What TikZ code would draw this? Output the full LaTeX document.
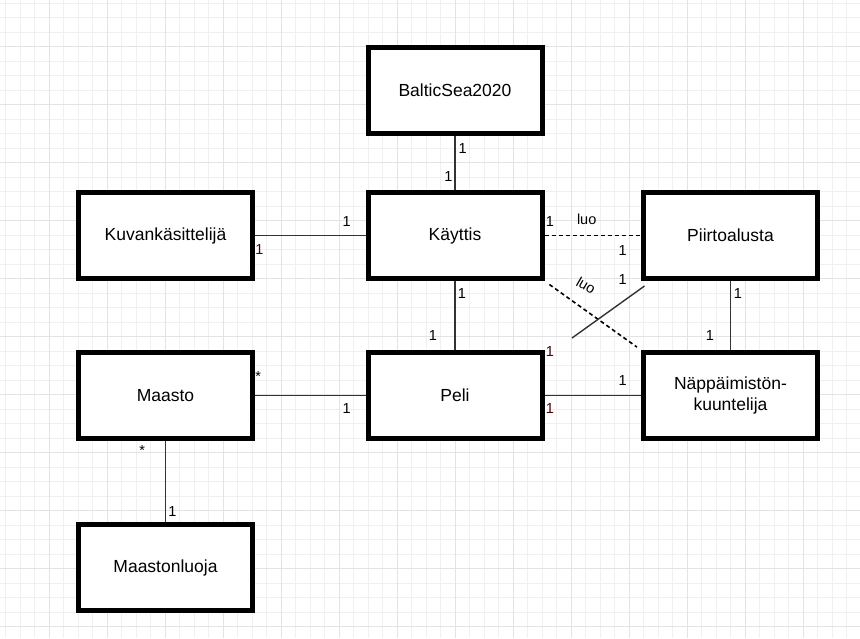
\documentclass[tikz,border=0pt]{standalone}
\usepackage{fontspec}
\setmainfont{Liberation Sans}
\definecolor{darkred}{RGB}{75,0,0}
\begin{document}
\begin{tikzpicture}[x=1pt, y=-1pt,
            b/.style={draw=black,line width=5pt,fill=white,minimum width=174pt,minimum height=86pt,
            align=center,font=\fontsize{17.5}{20.5}\selectfont},
            c/.style={black!80,line width=1.4pt},
            d/.style={black,line width=1.6pt,dash pattern=on 4pt off 3pt},
            m/.style={font=\fontsize{14.5}{16}\selectfont,inner sep=0pt}]
            \useasboundingbox (0,0) rectangle (860,638);

            % grid
            \foreach \k in {0,...,58} \draw[black!6,line width=0.8pt] (5.8+14.5*\k,0) -- (5.8+14.5*\k,638);
            \foreach \k in {0,...,43} \draw[black!6,line width=0.8pt] (0,3.2+14.5*\k) -- (860,3.2+14.5*\k);
            \foreach \k in {0,...,13} \draw[black!11,line width=0.8pt] (49.3+58*\k,0) -- (49.3+58*\k,638);
            \foreach \k in {0,...,10} \draw[black!11,line width=0.8pt] (0,46.7+58*\k) -- (860,46.7+58*\k);

            \node[b] (baltic) at (455,90) {BalticSea2020};
            \node[b] (kayttis) at (455,235.5) {Käyttis};
            \node[b] (kuva) at (165.5,235.5) {Kuvankäsittelijä};
            \node[b] (piirto) at (730.5,235.5) {Piirtoalusta};
            \node[b] (maasto) at (165.5,395.5) {Maasto};
            \node[b] (peli) at (455,395.5) {Peli};
            \node[b] (nappis) at (730.5,395.5) {Näppäimistön-\\kuuntelija};
            \node[b] (luoja) at (165.5,567.5) {Maastonluoja};

            \coordinate (crossend) at (572,338);

            \draw[c] (baltic) to (kayttis);
            \draw[c] (kuva) to (kayttis);
            \draw[d] (kayttis) to (piirto);
            \draw[d, shorten <=6pt, shorten >=5pt] (kayttis.south east) to (nappis.north west);
            \draw[c] (piirto.south west) ++(3.5,5) -- (crossend);
            \draw[c] (piirto) to (nappis);
            \draw[c] (kayttis) to (peli);
            \draw[c] (maasto) to (peli);
            \draw[c] (peli) to (nappis);
            \draw[c] (maasto) to (luoja);

            \node[m] (l1) at (462.7,148.3) {1};
            \node[m] (l2) at (448.3,176.7) {1};
            \node[m] (l3) at (346.7,221.7) {1};
            \node[m,darkred] (l4) at (259.3,250) {1};
            \node[m] (l5) at (550,221.7) {1};
            \node[m] (l6) at (586.7,219.5) {luo};
            \node[m] (l7) at (622.7,250.7) {1};
            \node[m,rotate=-30] (l8) at (586,285.5) {luo};
            \node[m] (l9) at (622.7,279.3) {1};
            \node[m,darkred] (l10) at (550,351.7) {1};
            \node[m] (l11) at (738,294) {1};
            \node[m] (l12) at (710,336) {1};
            \node[m] (l13) at (462,294) {1};
            \node[m] (l14) at (433,336) {1};
            \node[m] (l15) at (258.3,377) {*};
            \node[m] (l16) at (346.7,408.3) {1};
            \node[m,darkred] (l17) at (550,408.3) {1};
            \node[m] (l18) at (622.7,380.7) {1};
            \node[m] (l19) at (142.3,450.3) {*};
            \node[m] (l20) at (172.3,511.7) {1};
        \end{tikzpicture}
\end{document}
